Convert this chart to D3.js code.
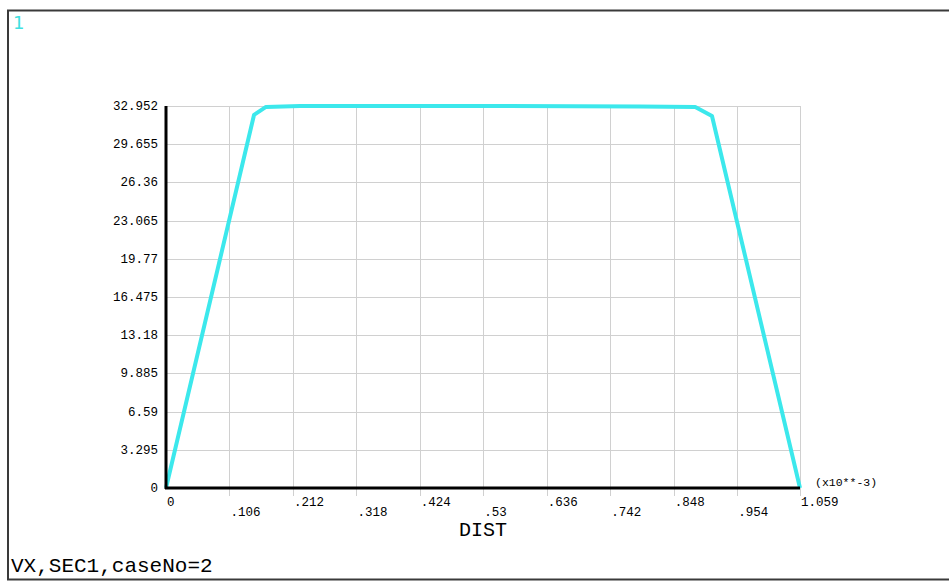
<!DOCTYPE html>
<html>
<head>
<meta charset="utf-8">
<script src="https://cdn.jsdelivr.net/npm/d3@7"></script>
<style>
  html, body { margin: 0; padding: 0; background: #fff; }
  svg { display: block; }
  text { font-family: "Liberation Mono", "Courier New", monospace; fill: #000; }
</style>
</head>
<body>
<div id="chart"></div>
<script>
// tick values as shown on the axes
var xTicks = [0, .106, .212, .318, .424, .53, .636, .742, .848, .954, 1.059];
var xTickLabels = ['0', '.106', '.212', '.318', '.424', '.53', '.636', '.742', '.848', '.954', '1.059'];
var yTicks = [0, 3.295, 6.59, 9.885, 13.18, 16.475, 19.77, 23.065, 26.36, 29.655, 32.952];
var yTickLabels = ['0', '3.295', '6.59', '9.885', '13.18', '16.475', '19.77', '23.065', '26.36', '29.655', '32.952'];

// VX along DIST (x10**-3)
var dist = [0, .147, .167, .224, .524, .792, .884, .912, 1.059];
var vx   = [0, 32.18, 32.87, 32.95, 32.95, 32.91, 32.87, 32.09, 0];

var W = 949, H = 581;
var margin = {left: 166, right: 149, top: 106, bottom: 93};

var svg = d3.select('#chart').append('svg')
  .attr('width', W)
  .attr('height', H);

// outer window frame
svg.append('rect')
  .attr('x', 8).attr('y', 10.5)
  .attr('width', 960).attr('height', 569)
  .attr('fill', 'none')
  .attr('stroke', '#3a3a3a')
  .attr('stroke-width', 2);

var x = d3.scaleLinear().domain([0, 1.059]).range([margin.left, W - margin.right]);
var y = d3.scaleLinear().domain([0, 32.952]).range([H - margin.bottom, margin.top]);

// grid
var grid = svg.append('g').attr('stroke', '#d0d0d0').attr('stroke-width', 1);
grid.selectAll('line.v')
  .data(xTicks.slice(1))
  .enter().append('line')
  .attr('x1', function(d) { return Math.round(x(d)) + .5; })
  .attr('x2', function(d) { return Math.round(x(d)) + .5; })
  .attr('y1', y(32.952)).attr('y2', y(0) + 8);
grid.selectAll('line.h')
  .data(yTicks.slice(1))
  .enter().append('line')
  .attr('x1', x(0)).attr('x2', x(1.059))
  .attr('y1', function(d) { return Math.round(y(d)) + .5; })
  .attr('y2', function(d) { return Math.round(y(d)) + .5; });

// curve
var line = d3.line()
  .x(function(d, i) { return x(dist[i]); })
  .y(function(d) { return y(d); });

svg.append('path')
  .datum(vx)
  .attr('d', line)
  .attr('fill', 'none')
  .attr('stroke', '#3ce8ec')
  .attr('stroke-width', 4)
  .attr('stroke-linejoin', 'round');

// axes lines
svg.append('line')
  .attr('x1', x(0)).attr('x2', x(0))
  .attr('y1', y(32.952)).attr('y2', y(0) + 1)
  .attr('stroke', '#000').attr('stroke-width', 3);
svg.append('line')
  .attr('x1', x(0) - 1).attr('x2', x(1.059))
  .attr('y1', y(0)).attr('y2', y(0))
  .attr('stroke', '#000').attr('stroke-width', 3);

// y tick labels
svg.append('g').selectAll('text')
  .data(yTicks)
  .enter().append('text')
  .attr('x', x(0) - 8)
  .attr('y', function(d) { return y(d) + 4; })
  .attr('text-anchor', 'end')
  .style('font-size', '12.5px')
  .text(function(d, i) { return yTickLabels[i]; });

// x tick labels, staggered
svg.append('g').selectAll('text')
  .data(xTicks)
  .enter().append('text')
  .attr('x', function(d) { return x(d) + 1; })
  .attr('y', function(d, i) { return y(0) + (i % 2 ? 28 : 18); })
  .style('font-size', '12.5px')
  .text(function(d, i) { return xTickLabels[i]; });

svg.append('text')
  .attr('x', 815).attr('y', 486)
  .style('font-size', '11.5px')
  .text('(x10**-3)');

svg.append('text')
  .attr('x', 483).attr('y', 536)
  .attr('text-anchor', 'middle')
  .style('font-size', '20px')
  .text('DIST');

svg.append('text')
  .attr('x', 11).attr('y', 572)
  .style('font-size', '21px')
  .text('VX,SEC1,caseNo=2');

svg.append('text')
  .attr('x', 13).attr('y', 29)
  .style('font-family', '"DejaVu Sans", sans-serif')
  .style('font-size', '18px')
  .style('fill', '#40e0e0')
  .text('1');
</script>
</body>
</html>
